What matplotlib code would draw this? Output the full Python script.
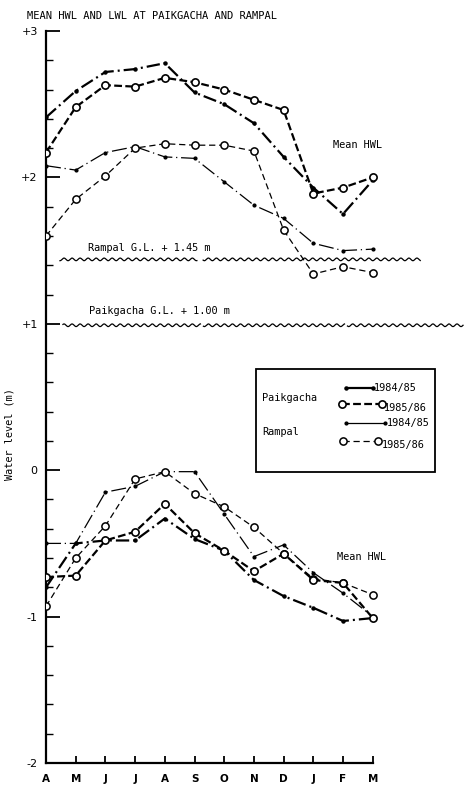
import numpy as np
import matplotlib
matplotlib.use("Agg")
import matplotlib.pyplot as plt
from matplotlib.patches import Rectangle
from matplotlib.lines import Line2D

# months April .. March
months = ["A", "M", "J", "J", "A", "S", "O", "N", "D", "J", "F", "M"]

# Mean HWL (upper group)
paik_hwl_8485 = [2.41, 2.59, 2.72, 2.74, 2.78, 2.58, 2.50, 2.37, 2.14, 1.93, 1.75, 1.98]
paik_hwl_8586 = [2.17, 2.48, 2.63, 2.62, 2.68, 2.65, 2.60, 2.53, 2.46, 1.89, 1.93, 2.00]
ramp_hwl_8485 = [2.08, 2.05, 2.17, 2.21, 2.14, 2.13, 1.97, 1.81, 1.72, 1.55, 1.50, 1.51]
ramp_hwl_8586 = [1.60, 1.85, 2.01, 2.20, 2.23, 2.22, 2.22, 2.18, 1.64, 1.34, 1.39, 1.35]

# Mean LWL (lower group)
paik_lwl_8485 = [-0.80, -0.50, -0.48, -0.48, -0.33, -0.47, -0.55, -0.75, -0.86, -0.94, -1.03, -1.01]
paik_lwl_8586 = [-0.73, -0.72, -0.48, -0.42, -0.23, -0.43, -0.55, -0.69, -0.57, -0.75, -0.77, -1.01]
ramp_lwl_8485 = [-0.50, -0.50, -0.15, -0.11, -0.01, -0.01, -0.30, -0.59, -0.51, -0.70, -0.84, -1.00]
ramp_lwl_8586 = [-0.93, -0.60, -0.38, -0.06, -0.01, -0.16, -0.25, -0.39, -0.57, -0.74, -0.77, -0.85]

# ground levels
rampal_gl = 1.44
paik_gl = 0.99

MONO = "DejaVu Sans Mono"

fig = plt.figure(figsize=(4.75, 7.96), dpi=100)
ax = fig.add_axes([46 / 475, 33 / 796, 420 / 475, 732 / 796])
x = np.arange(len(months))

thick_dd = dict(color="black", lw=1.6, linestyle=(0, (6, 1.8, 0.9, 1.8)),
                marker="o", ms=2.2, mfc="black", mec="black")
thick_dash = dict(color="black", lw=1.6, linestyle=(0, (3.5, 1.5)),
                  marker="o", ms=5.2, mfc="white", mec="black", mew=1.2)
thin_dd = dict(color="black", lw=0.9, linestyle=(0, (12, 3, 1, 3)),
               marker="o", ms=2.0, mfc="black", mec="black")
thin_dash = dict(color="black", lw=0.9, linestyle=(0, (5, 3)),
                 marker="o", ms=5.2, mfc="white", mec="black", mew=1.1)

for vals, st in [(ramp_hwl_8485, thin_dd), (ramp_hwl_8586, thin_dash),
                 (paik_hwl_8485, thick_dd), (paik_hwl_8586, thick_dash),
                 (ramp_lwl_8485, thin_dd), (ramp_lwl_8586, thin_dash),
                 (paik_lwl_8485, thick_dd), (paik_lwl_8586, thick_dash)]:
    ax.plot(x, vals, zorder=3, **st)


def wavy(ax, level, segments, period=0.27, amp=0.009):
    for a, b in segments:
        xs = np.linspace(a, b, 400)
        ax.plot(xs, level + amp * np.sin(2 * np.pi * xs / period),
                color="black", lw=0.9, zorder=2)


wavy(ax, rampal_gl, [(0.47, 5.08), (5.29, 12.6)])
wavy(ax, paik_gl, [(0.57, 5.2), (5.3, 10.05), (10.15, 14.04)])

ax.text(1.41, 1.515, "Rampal G.L. + 1.45 m", family=MONO, fontsize=7.4, va="center")
ax.text(1.45, 1.09, "Paikgacha G.L. + 1.00 m", family=MONO, fontsize=7.4, va="center")
ax.text(9.66, 2.22, "Mean HWL", family=MONO, fontsize=7.4, va="center")
ax.text(9.8, -0.59, "Mean HWL", family=MONO, fontsize=7.4, va="center")

# axes styling
ax.set_xlim(0, 14.14)
ax.set_ylim(-2, 3)
for s in ["top", "right"]:
    ax.spines[s].set_visible(False)
ax.spines["left"].set_linewidth(1.6)
ax.spines["bottom"].set_linewidth(1.6)
ax.spines["bottom"].set_bounds(0, 11)
ax.set_xticks(x)
ax.set_xticklabels(months, fontsize=7.5, fontweight="bold")
ax.tick_params(axis="x", direction="in", length=5, width=1.3, pad=8)
ax.set_yticks([-2, -1, 0, 1, 2, 3])
ax.set_yticklabels(["-2", "-1", "0", "+1", "+2", "+3"], fontsize=8)
ax.set_yticks(np.arange(-2, 3.01, 0.2), minor=True)
ax.tick_params(axis="y", which="major", direction="in", length=10, width=1.3, pad=6)
ax.tick_params(axis="y", which="minor", direction="in", length=5, width=1.0)

# legend drawn by hand (84/85 samples are short solid lines in the original)
tr = ax.transAxes
ax.add_patch(Rectangle((0.5, 0.3975), 0.426, 0.1405, transform=tr,
                       fill=False, lw=1.3, ec="black", zorder=4))
ax.text(0.514, 0.4986, "Paikgacha", transform=tr, family=MONO, fontsize=7.4, va="center")
ax.text(0.514, 0.452, "Rampal", transform=tr, family=MONO, fontsize=7.4, va="center")
legend_rows = [
    (0.714, 0.779, 0.512, dict(thick_dd, linestyle="-"), 0.781, "1984/85"),
    (0.705, 0.800, 0.491, thick_dash, 0.804, "1985/86"),
    (0.714, 0.807, 0.465, dict(thin_dd, linestyle="-"), 0.812, "1984/85"),
    (0.707, 0.790, 0.440, thin_dash, 0.800, "1985/86"),
]
for x0, x1, yy, st, xt, lab in legend_rows:
    ax.add_line(Line2D([x0, x1], [yy, yy], transform=tr, **st))
    ax.text(xt, yy - (0.006 if st["ms"] > 3 else 0), lab, transform=tr,
            family=MONO, fontsize=7.4, va="center")

ax.set_ylabel("Water level (m)", family=MONO, fontsize=7.4, labelpad=8)
ax.yaxis.set_label_coords(-0.075, 0.45)
fig.text(27 / 475, 1 - 16 / 796, "MEAN HWL AND LWL AT PAIKGACHA AND RAMPAL",
         family=MONO, fontsize=7.5, va="center")

fig.savefig("out.png", dpi=100)
